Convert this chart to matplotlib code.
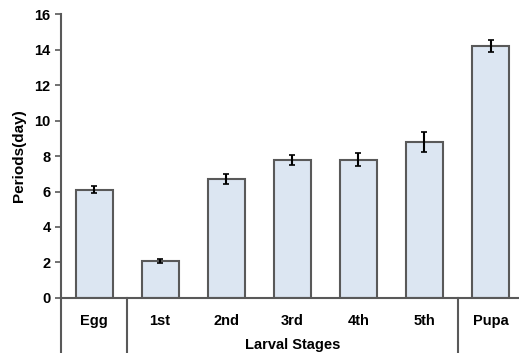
import matplotlib
matplotlib.use("Agg")
import matplotlib.pyplot as plt
import matplotlib.transforms as mtransforms

stages = ["Egg", "1st", "2nd", "3rd", "4th", "5th", "Pupa"]
periods = [6.1, 2.1, 6.7, 7.8, 7.8, 8.8, 14.2]
errors = [0.2, 0.12, 0.3, 0.28, 0.35, 0.55, 0.36]
group_label = "Larval Stages"

plt.rcParams['font.family'] = ['Liberation Sans', 'DejaVu Sans']
fig = plt.figure(figsize=(5.19, 3.53), dpi=100)
ax = fig.add_axes([0.1175, 0.156, 0.885, 0.804])

x = list(range(len(stages)))
ax.bar(x, periods, width=0.56, color="#dce6f2", edgecolor="#595959", linewidth=1.5, zorder=2)
ax.errorbar(x, periods, yerr=errors, fmt="none", ecolor="black", elinewidth=1.5,
            capsize=2, capthick=1.2, zorder=3)

ax.set_xlim(-0.5, 6.45)
ax.set_ylim(0, 16)
ax.set_yticks(range(0, 17, 2))
ax.tick_params(axis='y', labelsize=10.5, width=1.2, length=4, color="#595959")
for lab in ax.get_yticklabels():
    lab.set_fontweight('bold')
ax.set_xticks([])
for s in ["top", "right"]:
    ax.spines[s].set_visible(False)
for s in ["left", "bottom"]:
    ax.spines[s].set_color("#595959")
    ax.spines[s].set_linewidth(1.5)

ax.set_ylabel("Periods(day)", fontsize=11, fontweight='bold', labelpad=6)

trans = mtransforms.blended_transform_factory(ax.transData, ax.transAxes)
for xs in [-0.5, 0.5, 5.5]:
    ax.plot([xs, xs], [0, -0.19], transform=trans, color="#595959", lw=1.5, clip_on=False)
for xi, name in zip(x, stages):
    ax.text(xi, -0.08, name, transform=trans, ha="center", va="center",
            fontsize=10.5, fontweight='bold')
ax.text(3, -0.165, group_label, transform=trans, ha="center", va="center",
        fontsize=10.5, fontweight='bold')

fig.savefig("out.png", dpi=100)
